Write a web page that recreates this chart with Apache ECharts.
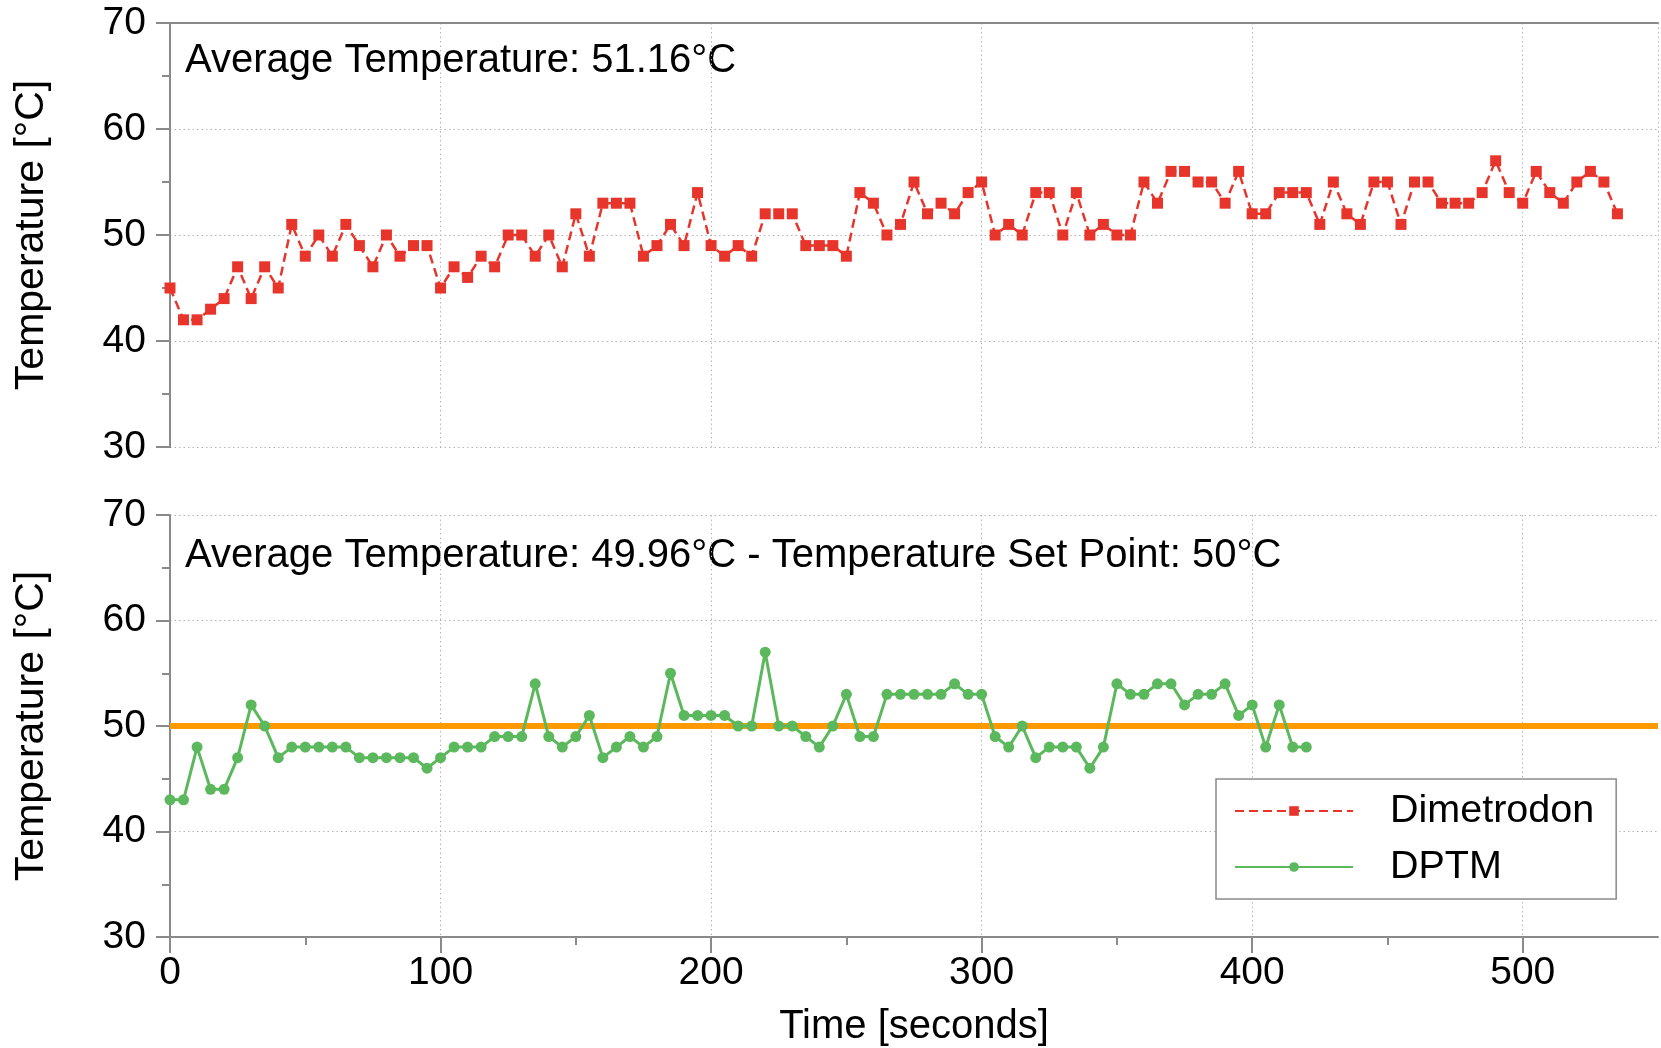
<!DOCTYPE html>
<html>
<head>
<meta charset="utf-8">
<script src="https://cdn.jsdelivr.net/npm/echarts@6/dist/echarts.min.js"></script>
<style>
html,body{margin:0;padding:0;background:#fff;}
#chart{width:1661px;height:1048px;}
</style>
</head>
<body>
<div id="chart"></div>
<script>
// ---- data ----
var timeDimetrodon = [0,5,10,15,20,25,30,35,40,45,50,55,60,65,70,75,80,85,90,95,
  100,105,110,115,120,125,130,135,140,145,150,155,160,165,170,175,180,185,190,195,
  200,205,210,215,220,225,230,235,240,245,250,255,260,265,270,275,280,285,290,295,
  300,305,310,315,320,325,330,335,340,345,350,355,360,365,370,375,380,385,390,395,
  400,405,410,415,420,425,430,435,440,445,450,455,460,465,470,475,480,485,490,495,
  500,505,510,515,520,525,530,535];
var tempDimetrodon = [45,42,42,43,44,47,44,47,45,51,
  48,50,48,51,49,47,50,48,49,49,
  45,47,46,48,47,50,50,48,50,47,
  52,48,53,53,53,48,49,51,49,54,
  49,48,49,48,52,52,52,49,49,49,
  48,54,53,50,51,55,52,53,52,54,
  55,50,51,50,54,54,50,54,50,51,
  50,50,55,53,56,56,55,55,53,56,
  52,52,54,54,54,51,55,52,51,55,
  55,51,55,55,53,53,53,54,57,54,
  53,56,54,53,55,56,55,52];
var timeDPTM = [0,5,10,15,20,25,30,35,40,45,50,55,60,65,70,75,80,85,90,95,
  100,105,110,115,120,125,130,135,140,145,150,155,160,165,170,175,180,185,190,195,
  200,205,210,215,220,225,230,235,240,245,250,255,260,265,270,275,280,285,290,295,
  300,305,310,315,320,325,330,335,340,345,350,355,360,365,370,375,380,385,390,395,
  400,405,410,415,420];
var tempDPTM = [43,43,48,44,44,47,52,50,47,48,
  48,48,48,48,47,47,47,47,47,46,
  47,48,48,48,49,49,49,54,49,48,
  49,51,47,48,49,48,49,55,51,51,
  51,51,50,50,57,50,50,49,48,50,
  53,49,49,53,53,53,53,53,54,53,
  53,49,48,50,47,48,48,48,46,48,
  54,53,53,54,54,52,53,53,54,51,
  52,48,52,48,48];
var setPoint = 50;
var seriesNames = ['Dimetrodon', 'DPTM'];
var annotationTop = 'Average Temperature: 51.16°C';
var annotationBottom = 'Average Temperature: 49.96°C - Temperature Set Point: 50°C';
var xMajorTicks = [0,100,200,300,400,500];
var xMinorTicks = [50,150,250,350,450];
var yMin = 30, yMax = 70, yStep = 10;
var xMin = 0, xMax = 550, xStep = 100;

function pairs(xs, ys){ return xs.map(function(x,i){ return [x, ys[i]]; }); }

var FONT = "'Liberation Sans', Arial, Helvetica, sans-serif";
var AXIS_COLOR = '#8a8a8a';
var splitLineStyle = {show:true, lineStyle:{color:'#b5b5b5', type:[1.5,3], width:1}};

function leftY(gridIndex){
  return {
    type:'value', gridIndex:gridIndex, position:'left', min:yMin, max:yMax, interval:yStep,
    name:'Temperature [°C]', nameLocation:'middle', nameGap:118, nameRotate:90,
    nameTextStyle:{fontSize:41, fontFamily:FONT, color:'#000'},
    axisLine:{show:true, lineStyle:{color:AXIS_COLOR, width:2}},
    axisTick:{show:true, length:14, lineStyle:{color:AXIS_COLOR, width:2}},
    minorTick:{show:true, splitNumber:2, length:8, lineStyle:{color:AXIS_COLOR, width:2}},
    axisLabel:{fontSize:39, fontFamily:FONT, color:'#000', margin:24, padding:[6,0,0,0]},
    splitLine:splitLineStyle
  };
}
function rightY(gridIndex){
  return {
    type:'value', gridIndex:gridIndex, position:'right', min:yMin, max:yMax, interval:yStep,
    axisLine:{show:true, lineStyle:{color:AXIS_COLOR, width:2}},
    axisTick:{show:false}, axisLabel:{show:false}, splitLine:{show:false}
  };
}

var chart = echarts.init(document.getElementById('chart'), null, {renderer:'canvas'});
chart.setOption({
  backgroundColor:'#fff',
  animation:false,
  textStyle:{fontFamily:FONT},
  grid:[
    {left:170, top:23, right:3, bottom:601},
    {left:170, top:515, right:3, bottom:110}
  ],
  xAxis:[
    {type:'value', gridIndex:0, position:'bottom', min:xMin, max:xMax, interval:xStep,
     axisLine:{show:false}, axisTick:{show:false}, axisLabel:{show:false}, splitLine:splitLineStyle},
    {type:'value', gridIndex:0, position:'top', min:xMin, max:xMax, interval:xStep,
     axisLine:{show:true, lineStyle:{color:AXIS_COLOR, width:2}}, axisTick:{show:false},
     axisLabel:{show:false}, splitLine:{show:false}},
    {type:'value', gridIndex:1, position:'bottom', min:xMin, max:xMax, interval:xStep,
     name:'Time [seconds]', nameLocation:'middle', nameGap:70,
     nameTextStyle:{fontSize:40, fontFamily:FONT, color:'#000'},
     axisLine:{show:true, lineStyle:{color:AXIS_COLOR, width:2}},
     axisTick:{show:true, length:16, customValues:xMajorTicks, lineStyle:{color:AXIS_COLOR, width:2}},
     axisLabel:{fontSize:39, fontFamily:FONT, color:'#000', margin:17, customValues:xMajorTicks},
     splitLine:splitLineStyle},
    {type:'value', gridIndex:1, position:'bottom', min:xMin, max:xMax, interval:xStep,
     axisLine:{show:false},
     axisTick:{show:true, length:8, customValues:xMinorTicks, lineStyle:{color:AXIS_COLOR, width:2}},
     axisLabel:{show:false}, splitLine:{show:false}}
  ],
  yAxis:[leftY(0), rightY(0), leftY(1), rightY(1)],
  legend:{
    orient:'vertical', left:1216, top:779,
    padding:[12,22,12,18], itemGap:16, itemWidth:118, itemHeight:12,
    borderColor:'#8a8a8a', borderWidth:1.5, backgroundColor:'#fff',
    textStyle:{fontSize:39.5, fontFamily:FONT, color:'#000', padding:[0,0,0,32]},
    data:seriesNames
  },
  graphic:[
    {type:'text', left:185, top:41, style:{text:annotationTop, font:'40px ' + FONT, fill:'#000'}},
    {type:'text', left:185, top:536, style:{text:annotationBottom, font:'40px ' + FONT, fill:'#000'}}
  ],
  series:[
    {name:seriesNames[0], type:'line', xAxisIndex:0, yAxisIndex:0,
     data:pairs(timeDimetrodon, tempDimetrodon),
     symbol:'rect', symbolSize:11, color:'#e8352b',
     itemStyle:{color:'#e8352b'},
     lineStyle:{color:'#e8352b', width:2.5, type:[9,5]}},
    {name:seriesNames[1], type:'line', xAxisIndex:2, yAxisIndex:2,
     data:pairs(timeDPTM, tempDPTM),
     symbol:'circle', symbolSize:11, color:'#5cb85c',
     itemStyle:{color:'#5cb85c'},
     lineStyle:{color:'#5cb85c', width:3},
     markLine:{silent:true, symbol:'none', label:{show:false}, z:1,
       lineStyle:{color:'#ff9900', width:6, type:'solid'},
       data:[{yAxis:setPoint}]}}
  ]
});
</script>
</body>
</html>
